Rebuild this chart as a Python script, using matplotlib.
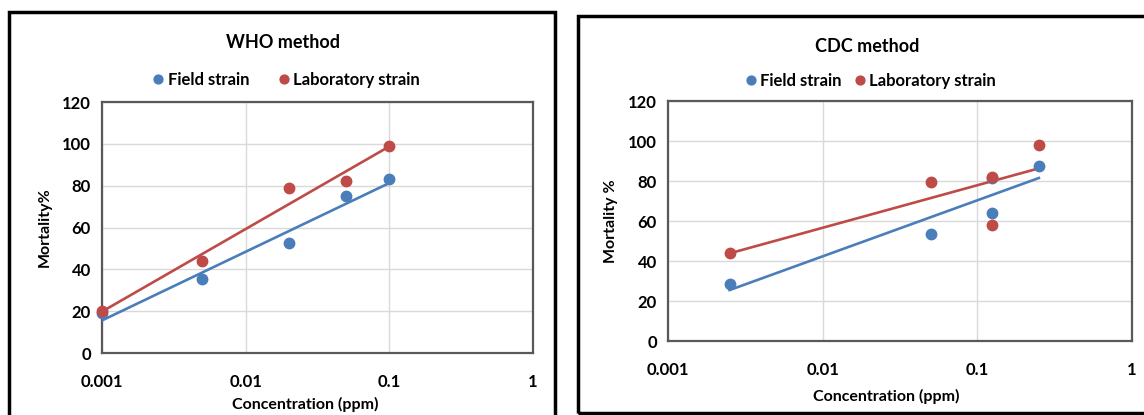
import numpy as np
import matplotlib.pyplot as plt
from matplotlib.patches import Rectangle

plt.rcParams['font.family'] = ['Lato', 'DejaVu Sans']

# WHO method data
who_conc = [0.001, 0.005, 0.02, 0.05, 0.1]
who_field = [19, 35.5, 52.5, 75, 83]
who_lab = [20, 44, 79, 82, 99]

# CDC method data
cdc_conc = [0.0025, 0.05, 0.125, 0.125, 0.25]
cdc_field = [28.5, 53.5, 64, 81.5, 87.5]
cdc_lab = [44, 79.5, 82, 58, 98]

blue = '#4A7EBB'
red = '#BE4B48'

W, H = 1144, 415
fig = plt.figure(figsize=(W / 100, H / 100), dpi=100)


def box(x0, y0, x1, y1):
    return [x0 / W, 1 - y1 / H, (x1 - x0) / W, (y1 - y0) / H]


def panel(rect, conc, field, lab, title, ylabel, title_xy, leg_xy, colsp, xlab_xy, ylab_x):
    ax = fig.add_axes(rect)
    ax.set_xscale('log')
    ax.set_xlim(0.001, 1)
    ax.set_ylim(0, 120)
    ax.set_yticks(range(0, 121, 20))
    ax.set_xticks([0.001, 0.01, 0.1, 1])
    ax.set_xticklabels(['0.001', '0.01', '0.1', '1'])
    ax.minorticks_off()
    ax.grid(True, color='#D9D9D9', lw=1)
    ax.set_axisbelow(True)
    for s in ax.spines.values():
        s.set_color('#595959')
        s.set_linewidth(1.6)
    ax.tick_params(length=0, labelsize=12)
    ax.tick_params(axis='y', pad=8)
    ax.tick_params(axis='x', pad=15)
    for t in ax.get_xticklabels() + ax.get_yticklabels():
        t.set_fontweight('bold')

    lx = np.log10(conc)
    xs = np.array([min(conc), max(conc)])
    for vals, c, name in [(field, blue, 'Field strain'), (lab, red, 'Laboratory strain')]:
        k, b = np.polyfit(lx, vals, 1)
        ax.plot(xs, k * np.log10(xs) + b, color=c, lw=1.9, zorder=3)
        ax.plot(conc, vals, 'o', color=c, ms=7.5, zorder=4, label=name, clip_on=False)

    pos = ax.get_position()
    fig.text(title_xy[0] / W, 1 - title_xy[1] / H, title, ha='center', va='center',
             fontsize=13, fontweight='bold')
    fig.legend(*ax.get_legend_handles_labels(), loc='center', ncol=2,
               bbox_to_anchor=(leg_xy[0] / W, 1 - leg_xy[1] / H), frameon=False,
               prop={'weight': 'bold', 'size': 12}, handletextpad=0.05,
               columnspacing=colsp, handlelength=1, markerscale=0.85)
    fig.text(xlab_xy[0] / W, 1 - xlab_xy[1] / H, 'Concentration (ppm)', ha='center',
             va='center', fontsize=11.5, fontweight='bold')
    fig.text(ylab_x / W, pos.y0 + pos.height / 2, ylabel, ha='center', va='center',
             rotation=90, fontsize=11.5, fontweight='bold')
    return ax


panel(box(102, 102, 533, 353), who_conc, who_field, who_lab, 'WHO method',
      'Mortality%', (283, 43), (285, 80), 1.6, (305, 404), 45)
panel(box(668, 101, 1132, 341), cdc_conc, cdc_field, cdc_lab, 'CDC method',
      'Mortality %', (867, 46), (869, 81), 0.6, (886, 396), 611)

# outer frames around each chart
fig.add_artist(Rectangle((9 / W, -0.05), (555 - 9) / W, 1.05 - 12 / H,
                         transform=fig.transFigure, fill=False, ec='black', lw=2.5))
fig.add_artist(Rectangle((578 / W, 1 - 413 / H), 0.6, (413 - 16) / H,
                         transform=fig.transFigure, fill=False, ec='black', lw=2.5))

fig.savefig('out.png', dpi=100)
